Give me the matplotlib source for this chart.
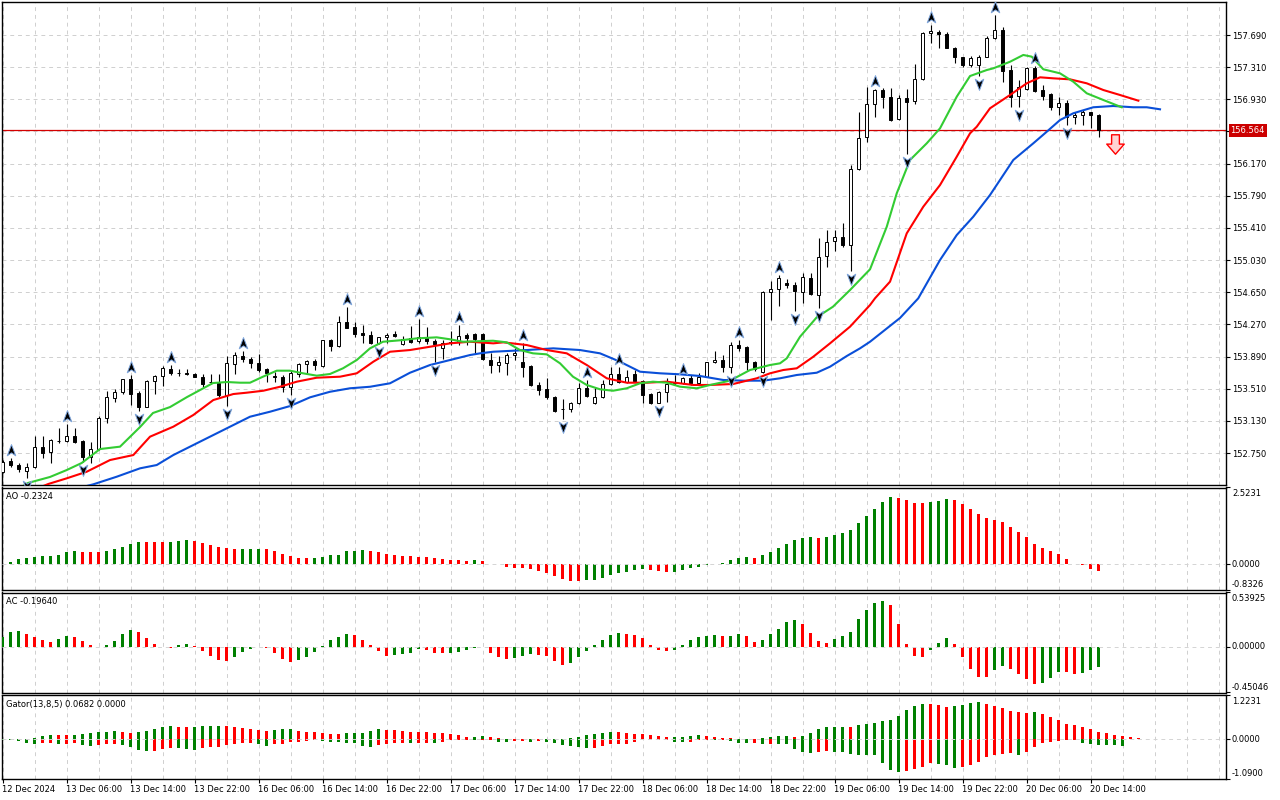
import matplotlib
matplotlib.use("Agg")
import matplotlib.pyplot as plt
import numpy as np
from matplotlib.path import Path
from matplotlib.transforms import offset_copy

# ------------------------------------------------------------------ data
time_labels = ["12 Dec 2024", "13 Dec 06:00", "13 Dec 14:00", "13 Dec 22:00",
               "16 Dec 06:00", "16 Dec 14:00", "16 Dec 22:00", "17 Dec 06:00",
               "17 Dec 14:00", "17 Dec 22:00", "18 Dec 06:00", "18 Dec 14:00",
               "18 Dec 22:00", "19 Dec 06:00", "19 Dec 14:00", "19 Dec 22:00",
               "20 Dec 06:00", "20 Dec 14:00"]

price_ticks = [152.750, 153.130, 153.510, 153.890, 154.270, 154.650, 155.030,
               155.410, 155.790, 156.170, 156.550, 156.930, 157.310, 157.690]

ohlc = [
 (152.529,152.667,152.513,152.647),(152.655,152.691,152.584,152.608),(152.608,152.631,152.529,152.557),
 (152.534,152.628,152.451,152.581),(152.581,152.951,152.569,152.817),(152.821,152.951,152.687,152.753),
 (152.758,152.912,152.635,152.903),(152.893,153.042,152.871,152.897),(152.895,153.092,152.883,152.947),
 (152.947,153.042,152.871,152.883),(152.888,152.903,152.647,152.699),(152.699,152.883,152.628,152.793),
 (152.793,153.190,152.785,153.167),(153.160,153.486,153.108,153.408),(153.403,153.502,153.356,153.467),
 (153.467,153.628,153.443,153.621),(153.624,153.671,153.317,153.447),(153.455,153.486,153.246,153.297),
 (153.297,153.612,153.290,153.601),(153.597,153.671,153.447,153.656),(153.656,153.781,153.541,153.750),
 (153.742,153.789,153.671,153.691),(153.698,153.742,153.660,153.697),(153.698,153.738,153.675,153.683),
 (153.683,153.691,153.644,153.648),(153.648,153.683,153.533,153.562),(153.592,153.683,153.565,153.593),
 (153.573,153.683,153.408,153.435),(153.435,153.896,153.305,153.810),(153.801,153.943,153.683,153.904),
 (153.892,153.959,153.828,153.864),(153.866,153.888,153.750,153.810),(153.810,153.920,153.710,153.730),
 (153.738,153.750,153.592,153.691),(153.660,153.710,153.592,153.644),(153.644,153.671,153.474,153.526),
 (153.526,153.730,153.435,153.691),(153.683,153.817,153.644,153.798),(153.801,153.849,153.698,153.837),
 (153.837,153.861,153.730,153.790),(153.781,154.085,153.770,154.082),(154.082,154.093,153.955,154.018),
 (154.018,154.369,154.006,154.294),(154.294,154.479,154.224,154.231),(154.235,154.302,154.125,154.160),
 (154.172,154.263,154.046,154.144),(154.144,154.195,154.034,154.046),(154.046,154.124,154.038,154.117),
 (154.117,154.164,154.046,154.144),(154.156,154.195,154.117,154.133),(154.038,154.133,154.026,154.093),
 (154.105,154.251,154.046,154.065),(154.077,154.330,154.046,154.124),(154.124,154.235,154.038,154.077),
 (154.077,154.093,153.828,154.038),(153.987,154.085,153.865,154.046),(154.065,154.195,154.026,154.046),
 (154.065,154.263,154.026,154.133),(154.144,154.172,154.026,154.105),(154.156,154.164,153.928,154.093),
 (154.156,154.164,153.853,153.865),(153.853,153.928,153.698,153.786),(153.786,153.896,153.710,153.828),
 (153.817,153.935,153.671,153.908),(153.906,153.991,153.849,153.928),(153.822,154.053,153.651,153.770),
 (153.778,153.789,153.541,153.553),(153.553,153.592,153.435,153.494),(153.506,153.632,153.384,153.408),
 (153.415,153.423,153.238,153.250),(153.274,153.384,153.148,153.273),(153.273,153.356,153.238,153.337),
 (153.337,153.573,153.329,153.514),(153.514,153.612,153.408,153.423),(153.337,153.533,153.329,153.408),
 (153.408,153.612,153.396,153.565),(153.565,153.770,153.553,153.683),(153.683,153.770,153.580,153.592),
 (153.592,153.730,153.573,153.651),(153.683,153.730,153.592,153.604),(153.604,153.612,153.344,153.435),
 (153.447,153.455,153.329,153.337),(153.344,153.486,153.337,153.474),(153.474,153.632,153.356,153.565),
 (153.592,153.671,153.553,153.573),(153.580,153.651,153.565,153.632),(153.632,153.671,153.553,153.573),
 (153.573,153.691,153.565,153.651),(153.651,153.828,153.644,153.822),(153.822,153.959,153.810,153.849),
 (153.849,153.908,153.710,153.770),(153.770,154.065,153.691,154.026),(154.026,154.085,153.959,153.987),
 (154.006,154.014,153.730,153.822),(153.822,153.837,153.722,153.738),(153.710,154.664,153.698,154.656),
 (154.648,154.786,154.322,154.684),(154.684,154.853,154.487,154.814),(154.763,154.802,154.696,154.735),
 (154.735,154.774,154.432,154.668),(154.656,154.881,154.526,154.826),(154.814,154.873,154.617,154.629),
 (154.617,155.287,154.460,155.070),(155.078,155.385,154.952,155.247),(155.252,155.385,155.141,155.299),
 (155.299,155.465,155.188,155.208),(155.208,156.154,154.904,156.103),(156.103,156.776,156.094,156.469),
 (156.481,157.072,156.429,156.871),(156.871,157.048,156.717,157.040),(157.040,157.060,156.824,156.954),
 (156.954,157.060,156.677,156.685),(156.693,156.981,156.685,156.942),(156.942,157.048,156.284,156.902),
 (156.910,157.344,156.875,157.166),(157.174,157.729,157.158,157.710),(157.710,157.808,157.592,157.737),
 (157.729,157.749,157.533,157.698),(157.698,157.729,157.533,157.540),(157.540,157.552,157.356,157.426),
 (157.426,157.434,157.315,157.335),(157.335,157.442,157.315,157.415),(157.335,157.454,157.205,157.426),
 (157.434,157.678,157.426,157.651),(157.651,157.926,157.639,157.749),(157.749,157.781,157.138,157.268),
 (157.276,157.335,156.843,156.961),(156.973,157.158,156.835,157.072),(157.048,157.315,157.040,157.296),
 (157.296,157.324,157.020,157.032),(157.040,157.099,156.922,156.973),(156.989,157.001,156.804,156.836),
 (156.836,156.961,156.745,156.883),(156.890,156.922,156.626,156.724),(156.720,156.784,156.638,156.745),
 (156.745,156.804,156.626,156.776),(156.776,156.784,156.587,156.745),(156.745,156.757,156.488,156.564),
]

# Alligator lines (bar position, price)
jaw_pos = [8.0, 11.35, 14.28, 17.19, 19.28, 21.35, 24.69, 27.19, 29.69, 30.94, 33.44, 35.94, 38.44, 40.94,
           43.44, 45.94, 48.44, 50.94, 53.44, 55.94, 58.44, 59.69, 61.35, 65.53, 68.85, 72.19, 74.69,
           77.19, 79.69, 82.19, 84.69, 87.19, 90.1, 92.6, 95.1, 97.19, 99.28, 101.78, 103.44, 105.53,
           107.19, 108.44, 112.19, 114.47, 117.19, 119.28, 121.35, 123.44, 126.35, 128.85, 130.53,
           132.19, 133.85, 136.35, 138.85, 141.35, 143.03, 144.69]
jaw_val = [152.30, 152.380, 152.470, 152.569, 152.608, 152.726, 152.884, 153.002, 153.120, 153.179,
           153.238, 153.305, 153.408, 153.474, 153.515, 153.533, 153.574, 153.699, 153.790, 153.849,
           153.908, 153.928, 153.947, 153.967, 153.987, 153.967, 153.928, 153.829, 153.711, 153.692,
           153.680, 153.660, 153.613, 153.605, 153.605, 153.633, 153.672, 153.699, 153.770, 153.896,
           153.987, 154.065, 154.346, 154.578, 155.031, 155.326, 155.543, 155.799, 156.213, 156.410,
           156.547, 156.685, 156.765, 156.836, 156.851, 156.836, 156.836, 156.812]
teeth_pos = [3.0, 5.73, 8.03, 10.53, 13.44, 16.35, 18.44, 21.35, 23.85, 26.35, 28.85, 30.53, 32.6, 34.69,
             36.78, 39.28, 42.19, 44.28, 46.35, 48.44, 50.94, 53.44, 55.94, 58.44, 61.35, 62.6, 65.53,
             68.03, 70.53, 73.03, 75.53, 78.03, 80.53, 83.03, 86.35, 88.44, 91.35, 94.28, 95.94, 97.6,
             99.28, 101.35, 103.44, 105.94, 108.44, 109.06, 110.94, 113.03, 115.1, 117.19, 119.28,
             120.94, 121.78, 123.44, 125.94, 128.03, 129.69, 131.35, 133.44, 135.53, 137.6, 139.69, 141.98]
teeth_val = [152.28, 152.384, 152.451, 152.529, 152.667, 152.726, 152.943, 153.061, 153.199, 153.376,
             153.447, 153.463, 153.486, 153.533, 153.593, 153.640, 153.652, 153.692, 153.829, 153.947,
             153.967, 154.006, 154.046, 154.065, 154.046, 154.058, 154.026, 153.967, 153.928, 153.790,
             153.633, 153.581, 153.581, 153.593, 153.554, 153.554, 153.566, 153.633, 153.692, 153.731,
             153.751, 153.888, 154.046, 154.243, 154.499, 154.578, 154.775, 155.346, 155.661, 155.917,
             156.252, 156.528, 156.606, 156.824, 156.981, 157.119, 157.190, 157.178, 157.166, 157.119,
             157.040, 156.981, 156.914]
lips_pos = [1.5, 3.19, 5.94, 8.03, 9.9, 12.19, 14.69, 17.19, 18.81, 20.94, 23.06, 24.69, 26.31, 28.06,
            29.69, 30.94, 32.56, 34.28, 35.94, 37.56, 39.28, 40.94, 42.56, 44.28, 45.94, 47.56, 50.06,
            51.78, 54.28, 55.94, 57.56, 61.31, 63.03, 64.69, 66.31, 68.03, 69.69, 71.31, 73.03, 74.69,
            76.31, 78.03, 79.69, 81.31, 83.03, 84.69, 86.78, 88.44, 90.94, 93.44, 95.94, 97.19, 98.03,
            99.69, 101.78, 103.81, 105.94, 108.44, 110.53, 111.78, 113.44, 115.53, 117.19, 119.28,
            120.94, 123.03, 123.85, 125.94, 127.6, 128.65, 130.1, 132.19, 133.85, 135.53, 137.6, 139.9]
lips_val = [152.30, 152.396, 152.467, 152.549, 152.632, 152.797, 152.825, 153.057, 153.223, 153.293,
            153.411, 153.494, 153.577, 153.589, 153.581, 153.581, 153.652, 153.723, 153.723, 153.692,
            153.664, 153.684, 153.751, 153.849, 153.987, 154.065, 154.085, 154.105, 154.117, 154.094,
            154.065, 154.077, 154.058, 153.967, 153.928, 153.916, 153.810, 153.652, 153.554, 153.503,
            153.486, 153.515, 153.574, 153.593, 153.581, 153.534, 153.515, 153.554, 153.605, 153.731,
            153.790, 153.810, 153.869, 154.124, 154.354, 154.479, 154.676, 154.921, 155.424, 155.819,
            156.213, 156.410, 156.587, 156.961, 157.205, 157.276, 157.296, 157.374, 157.454, 157.434,
            157.285, 157.237, 157.138, 157.001, 156.922, 156.836]

fractal_up_bars = [1, 8, 16, 21, 30, 43, 52, 57, 65, 73, 77, 85, 92, 97, 109, 116, 124, 129]
fractal_down_bars = [3, 10, 17, 28, 36, 47, 54, 70, 82, 91, 95, 99, 102, 106, 113, 122, 127, 133]

ao = [0.02, 0.065, 0.16, 0.205, 0.24, 0.26, 0.27, 0.31, 0.39, 0.42,
      0.415, 0.41, 0.405, 0.45, 0.49, 0.58, 0.68, 0.745, 0.74, 0.735,
      0.73, 0.745, 0.775, 0.78, 0.775, 0.70, 0.64, 0.58, 0.53, 0.485,
      0.49, 0.495, 0.51, 0.485, 0.42, 0.325, 0.26, 0.205, 0.20, 0.205,
      0.24, 0.29, 0.31, 0.42, 0.45, 0.455, 0.45, 0.40, 0.325, 0.29,
      0.26, 0.255, 0.25, 0.235, 0.205, 0.16, 0.13, 0.125, 0.10, 0.125,
      0.10, 0.02, -0.01, -0.085, -0.12, -0.14, -0.17, -0.215, -0.28, -0.38,
      -0.485, -0.54, -0.545, -0.53, -0.505, -0.44, -0.355, -0.29, -0.25, -0.185,
      -0.15, -0.185, -0.225, -0.25, -0.245, -0.185, -0.14, -0.085, -0.02, 0.02,
      0.055, 0.13, 0.205, 0.225, 0.22, 0.29, 0.39, 0.53, 0.65, 0.81,
      0.875, 0.88, 0.875, 0.905, 0.97, 1.04, 1.13, 1.36, 1.59, 1.81,
      2.04, 2.20, 2.19, 2.11, 2.01, 2.00, 2.04, 2.07, 2.14, 2.11,
      1.98, 1.81, 1.65, 1.52, 1.46, 1.39, 1.23, 1.07, 0.91, 0.68,
      0.52, 0.42, 0.32, 0.17, 0.02, -0.04, -0.16, -0.2324]

ac = [0.099, 0.148, 0.158, 0.128, 0.099, 0.069, 0.049, 0.079, 0.108, 0.099,
      0.059, 0.020, 0.003, 0.020, 0.059, 0.128, 0.168, 0.148, 0.089, 0.030,
      -0.003, -0.007, 0.020, 0.030, 0.010, -0.036, -0.085, -0.128, -0.135, -0.099,
      -0.046, -0.020, -0.004, -0.007, -0.056, -0.118, -0.145, -0.128, -0.099, -0.046,
      0.007, 0.069, 0.099, 0.128, 0.118, 0.069, 0.020, -0.036, -0.085, -0.082,
      -0.072, -0.056, -0.020, -0.026, -0.056, -0.059, -0.056, -0.046, -0.026, -0.007,
      -0.003, -0.056, -0.095, -0.115, -0.105, -0.085, -0.066, -0.079, -0.085, -0.135,
      -0.177, -0.154, -0.095, -0.036, 0.020, 0.069, 0.118, 0.138, 0.128, 0.118,
      0.089, 0.020, -0.026, -0.036, -0.026, 0.020, 0.069, 0.099, 0.108, 0.118,
      0.108, 0.112, 0.128, 0.108, 0.049, 0.069, 0.128, 0.177, 0.246, 0.266,
      0.227, 0.138, 0.059, 0.039, 0.079, 0.108, 0.148, 0.276, 0.365, 0.434,
      0.453, 0.414, 0.227, 0.030, -0.089, -0.099, -0.026, 0.039, 0.089, 0.030,
      -0.099, -0.217, -0.296, -0.299, -0.227, -0.187, -0.217, -0.266, -0.315, -0.365,
      -0.361, -0.306, -0.245, -0.248, -0.263, -0.256, -0.224, -0.1964]

gator_up = [0.009, 0.018, 0.018, 0.009, 0.028, 0.092, 0.119, 0.118, 0.117, 0.121,
            0.147, 0.184, 0.202, 0.204, 0.230, 0.202, 0.174, 0.202, 0.230, 0.285,
            0.340, 0.367, 0.345, 0.340, 0.349, 0.367, 0.370, 0.376, 0.367, 0.340,
            0.312, 0.285, 0.257, 0.230, 0.257, 0.275, 0.285, 0.230, 0.202, 0.200,
            0.174, 0.147, 0.145, 0.174, 0.176, 0.178, 0.230, 0.275, 0.273, 0.257,
            0.230, 0.202, 0.200, 0.198, 0.184, 0.165, 0.147, 0.110, 0.073, 0.075,
            0.092, 0.073, 0.037, 0.018, 0.009, 0.018, 0.009, 0.008, 0.007, 0.005,
            0.004, 0.028, 0.073, 0.119, 0.147, 0.184, 0.202, 0.193, 0.165, 0.147,
            0.138, 0.110, 0.083, 0.060, 0.062, 0.064, 0.092, 0.110, 0.092, 0.064,
            0.046, 0.028, 0.009, 0.005, 0.004, 0.028, 0.064, 0.092, 0.096, 0.064,
            0.092, 0.174, 0.285, 0.340, 0.344, 0.349, 0.340, 0.395, 0.422, 0.450,
            0.505, 0.532, 0.643, 0.808, 0.918, 0.973, 0.964, 0.946, 0.900, 0.909,
            0.946, 1.010, 1.028, 0.973, 0.927, 0.863, 0.789, 0.762, 0.716, 0.753,
            0.689, 0.615, 0.523, 0.420, 0.390, 0.345, 0.275, 0.215, 0.170, 0.120,
            0.090, 0.0682, 0.037]
gator_down = [0.009, 0.018, 0.046, 0.092, 0.119, 0.092, 0.090, 0.138, 0.129, 0.110,
              0.165, 0.184, 0.165, 0.129, 0.127, 0.147, 0.202, 0.294, 0.321, 0.320,
              0.266, 0.248, 0.250, 0.252, 0.294, 0.248, 0.220, 0.218, 0.156, 0.138,
              0.110, 0.108, 0.138, 0.174, 0.138, 0.136, 0.083, 0.064, 0.046, 0.018,
              0.046, 0.064, 0.066, 0.092, 0.110, 0.174, 0.220, 0.147, 0.129, 0.110,
              0.092, 0.110, 0.092, 0.090, 0.110, 0.073, 0.028, 0.027, 0.018, 0.028,
              0.018, 0.017, 0.064, 0.073, 0.046, 0.037, 0.064, 0.046, 0.064, 0.092,
              0.156, 0.184, 0.220, 0.239, 0.230, 0.174, 0.129, 0.127, 0.125, 0.073,
              0.018, 0.017, 0.016, 0.014, 0.073, 0.078, 0.073, 0.018, 0.014, 0.028,
              0.023, 0.046, 0.092, 0.101, 0.096, 0.119, 0.115, 0.119, 0.124, 0.266,
              0.340, 0.367, 0.358, 0.321, 0.340, 0.344, 0.404, 0.422, 0.427, 0.441,
              0.643, 0.845, 0.890, 0.863, 0.817, 0.762, 0.652, 0.679, 0.707, 0.780,
              0.771, 0.707, 0.615, 0.496, 0.431, 0.404, 0.386, 0.431, 0.340, 0.202,
              0.092, 0.064, 0.055, 0.028, 0.018, 0.090, 0.120, 0.140, 0.150, 0.155,
              0.170, 0.0, 0.0]

ao_range = (-0.8326, 2.5231)
ac_range = (-0.45046, 0.53925)
gator_range = (-1.0900, 1.2231)

# ------------------------------------------------------------------ style
plt.rcParams['font.family'] = ['DejaVu Sans']
FS = 6.0
W, H = 1280, 800
PX = 72.0 / 100.0          # points per pixel
BAR_SP = 8.0               # pixels per bar
LEFT, RIGHT = 2, 1226
GREEN, RED = '#008000', '#ff0000'
GRID = dict(color='#cfcfcf', lw=0.7, ls=(0, (4, 4)), zorder=1)

fig = plt.figure(figsize=(W / 100, H / 100), dpi=100)
fig.patch.set_facecolor('white')

nvis = (RIGHT - LEFT) / BAR_SP


def panel(top, bottom):
    a = fig.add_axes([LEFT / W, 1 - bottom / H, (RIGHT - LEFT) / W, (bottom - top) / H])
    for s in a.spines.values():
        s.set_linewidth(1.0)
        s.set_color('black')
    a.set_xlim(-0.0625, nvis - 0.0625)
    a.tick_params(left=False, labelleft=False)
    for gx in range(0, int(nvis) + 1, 4):
        a.axvline(gx, **GRID)
    return a


ax = panel(2, 485)
ax_ao = panel(487.5, 589.5)
ax_ac = panel(592.5, 692.5)
ax_gt = panel(695, 779)

# ------------------------------------------------------------------ main chart
o, h, l, c = (np.array(v) for v in zip(*ohlc))
n = len(c)
xs = np.arange(n)
ax.set_ylim(152.372, 158.080)
for p in price_ticks:
    ax.axhline(p, **GRID)

ax.axhline(c[-1], color='#d40000', lw=0.9, zorder=2)
ax.vlines(xs, l, h, color='black', lw=0.8, zorder=3)
bull = c >= o
ax.bar(xs, np.maximum(np.abs(c - o), 0.003), bottom=np.minimum(o, c), width=0.42,
       color=np.where(bull, 'white', 'black'), edgecolor='black', linewidth=0.7, zorder=4)

ax.plot(jaw_pos, jaw_val, color='#0a4fd8', lw=1.5, zorder=5)
ax.plot(teeth_pos, teeth_val, color='#ff0000', lw=1.5, zorder=5)
ax.plot(lips_pos, lips_val, color='#33cc33', lw=1.5, zorder=5)

codes5 = [Path.MOVETO, Path.LINETO, Path.LINETO, Path.LINETO, Path.CLOSEPOLY]
up_glyph = Path([(0, 0.5), (0.36, -0.45), (0, -0.2), (-0.36, -0.45), (0, 0.5)], codes5)
dn_glyph = Path([(0, -0.5), (0.36, 0.45), (0, 0.2), (-0.36, 0.45), (0, -0.5)], codes5)
tr_up = offset_copy(ax.transData, fig=fig, x=0, y=8 * PX, units='points')
tr_dn = offset_copy(ax.transData, fig=fig, x=0, y=-8 * PX, units='points')
fu = np.array(fractal_up_bars)
fd = np.array(fractal_down_bars)
ax.plot(fu, h[fu], ls='none', marker=up_glyph, ms=8.5, mfc='black', mec='#7ea6de',
        mew=0.7, transform=tr_up, zorder=6)
ax.plot(fd, l[fd], ls='none', marker=dn_glyph, ms=8.5, mfc='black', mec='#7ea6de',
        mew=0.7, transform=tr_dn, zorder=6)

# sell signal arrow after last bar
arrow_path = Path([(-0.2, 0.5), (0.2, 0.5), (0.2, 0.02), (0.45, 0.02), (0, -0.5),
                   (-0.45, 0.02), (-0.2, 0.02), (-0.2, 0.5)],
                  [Path.MOVETO] + [Path.LINETO] * 6 + [Path.CLOSEPOLY])
tr_s = offset_copy(ax.transData, fig=fig, x=0, y=-13.5 * PX, units='points')
ax.plot([n + 1], [c[-1]], ls='none', marker=arrow_path, ms=14, mfc='#ffd4d4', mec='#ff0000',
        mew=1.0, transform=tr_s, zorder=6)

ax.yaxis.tick_right()
ax.set_yticks(price_ticks)
ax.set_yticklabels(['' if abs(p - c[-1]) < 0.05 else f'{p:.3f}' for p in price_ticks])
ax.tick_params(axis='y', direction='out', length=3, width=0.8, pad=1.5, labelsize=FS,
               right=True, labelright=True)
ax.set_xticks([])
ax.annotate(f'{c[-1]:.3f}', xy=(1, c[-1]), xycoords=('axes fraction', 'data'),
            xytext=(4.5 * PX, 0), textcoords='offset points', va='center', ha='left',
            color='white', fontsize=FS, annotation_clip=False, zorder=10,
            bbox=dict(boxstyle='square,pad=0.22', fc='#cc0000', ec='none'))


# ------------------------------------------------------------------ indicator panels
def colors_for(vals):
    cols = [GREEN]
    for i in range(1, len(vals)):
        cols.append(GREEN if vals[i] > vals[i - 1] else RED)
    return cols


def right_labels(a, rng, fmt):
    lo, hi = rng
    a.set_ylim(lo, hi)
    a.yaxis.tick_right()
    a.set_yticks([lo, 0, hi])
    a.set_yticklabels([])
    a.tick_params(axis='y', direction='out', length=3, width=0.8, right=True)
    for v, va, dy in ((hi, 'top', -1.5), (0, 'center', 0), (lo, 'bottom', 0.5)):
        a.annotate(fmt.format(v), xy=(1, v), xycoords=('axes fraction', 'data'),
                   xytext=(6 * PX, dy * PX), textcoords='offset points', va=va, ha='left',
                   fontsize=FS, annotation_clip=False)


def title(a, txt):
    a.annotate(txt, xy=(0, 1), xycoords='axes fraction', xytext=(4 * PX, -4.5 * PX),
               textcoords='offset points', va='top', ha='left', fontsize=FS)


ZERO = dict(color='#d4d4d4', lw=0.7, ls=(0, (4, 4)), zorder=4)

ax_ao.bar(np.arange(len(ao)), ao, width=0.375, color=colors_for(ao), lw=0, zorder=3)
ax_ao.axhline(0, **ZERO)
right_labels(ax_ao, ao_range, '{:.4f}')
title(ax_ao, f'AO {ao[-1]:.4f}')
ax_ao.set_xticks([])

ax_ac.bar(np.arange(len(ac)), ac, width=0.375, color=colors_for(ac), lw=0, zorder=3)
ax_ac.axhline(0, **ZERO)
right_labels(ax_ac, ac_range, '{:.5f}')
title(ax_ac, f'AC {ac[-1]:.5f}')
ax_ac.set_xticks([])

gx = np.arange(len(gator_up))
ax_gt.bar(gx, gator_up, width=0.375, color=colors_for(gator_up), lw=0, zorder=3)
ax_gt.bar(gx, -np.array(gator_down), width=0.375, color=colors_for(gator_down), lw=0, zorder=3)
ax_gt.axhline(0, **ZERO)
right_labels(ax_gt, gator_range, '{:.4f}')
title(ax_gt, f'Gator(13,8,5) {gator_up[141]:.4f} {gator_down[141]:.4f}')

label_bars = [8 * k for k in range(len(time_labels))]
ax_gt.set_xticks(label_bars)
ax_gt.set_xticklabels(time_labels, ha='left', fontsize=FS)
ax_gt.tick_params(axis='x', direction='out', length=3, width=0.8, pad=1.5)

fig.savefig('out.png', dpi=100, facecolor='white')
